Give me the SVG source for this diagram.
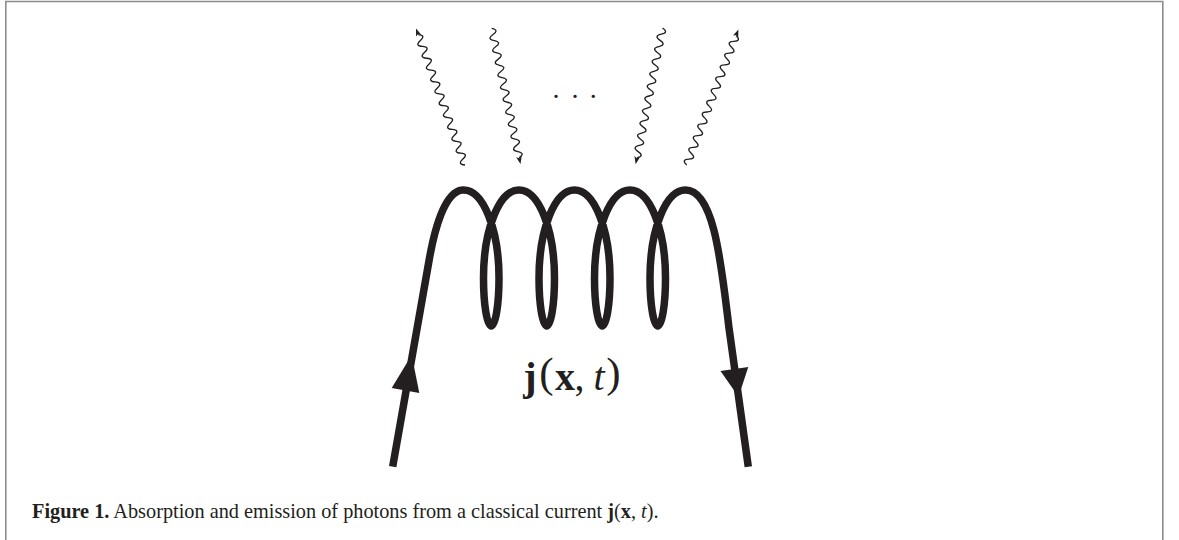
<svg xmlns="http://www.w3.org/2000/svg" xmlns:xlink="http://www.w3.org/1999/xlink" width="1179" height="540" viewBox="0 0 1179 540">
  <style>
    .frame { fill: none; stroke: #8c8c8c; stroke-width: 1.6; }
    .coil { fill: none; stroke: #231f20; stroke-width: 7.5; stroke-linejoin: round; stroke-linecap: butt; }
    .wave { fill: none; stroke: #231f20; stroke-width: 1.3; stroke-linejoin: round; }
    .head { fill: #231f20; stroke: none; }
    .math { font-family: "Liberation Serif", "Times New Roman", serif; fill: #231f20; }
    .cap { font-family: "Liberation Serif", "Times New Roman", serif; font-size: 20.3px; fill: #231f20; }
  </style>
  <defs>
    <g id="w22">
      <path class="wave" d="M0,0 q3.15,-7.4 6.3,0 t6.3,0 t6.3,0 t6.3,0 t6.3,0 t6.3,0 t6.3,0 t6.3,0 t6.3,0 t6.3,0 t6.3,0 t6.3,0 t6.3,0 t6.3,0 t6.3,0 t6.3,0 t6.3,0 t6.3,0 t6.3,0 t6.3,0 t6.3,0 t6.3,0"/>
      <path class="head" d="M145.1,0 L137.4,-2.8 L139.1,0 L137.4,2.8 Z"/>
    </g>
    <g id="w21">
      <path class="wave" d="M0,0 q3.15,-7.4 6.3,0 t6.3,0 t6.3,0 t6.3,0 t6.3,0 t6.3,0 t6.3,0 t6.3,0 t6.3,0 t6.3,0 t6.3,0 t6.3,0 t6.3,0 t6.3,0 t6.3,0 t6.3,0 t6.3,0 t6.3,0 t6.3,0 t6.3,0 t6.3,0"/>
      <path class="head" d="M138.8,0 L131.1,-2.8 L132.8,0 L131.1,2.8 Z"/>
    </g>
  </defs>
  <rect width="1179" height="540" fill="#ffffff"/>
  <path class="frame" d="M5.8,540 V1.5 H1162.8 V540"/>

  <g id="connectors">
    <g id="photon-out-1"><use xlink:href="#w22" transform="translate(465,165) rotate(-109.72)"/></g>
    <g id="photon-in-1"><use xlink:href="#w21" transform="translate(491.7,28.3) rotate(78.02)"/></g>
    <g id="photon-in-2"><use xlink:href="#w21" transform="translate(662.5,28) rotate(101.15)"/></g>
    <g id="photon-out-2"><use xlink:href="#w22" transform="translate(686.7,165) rotate(-69.14)"/></g>
  </g>

  <g id="current">
    <path class="coil" d="M392.7,466.7 L429.5,258 C434,233 444,190 463.5,190
      C483.5,190 499,230 499,278 C499,304 495.5,326 491.25,326 C487,326 483.5,304 483.5,278 C483.5,230 499,190 519,190
      C539,190 554.5,230 554.5,278 C554.5,304 551,326 546.75,326 C542.5,326 539,304 539,278 C539,230 554.5,190 574.5,190
      C594.5,190 610,230 610,278 C610,304 606.5,326 602.25,326 C598,326 594.5,304 594.5,278 C594.5,230 610,190 630,190
      C650,190 665.5,230 665.5,278 C665.5,304 662,326 657.75,326 C653.5,326 650,304 650,278 C650,230 665.5,190 685.5,190
      C714,190 721,262 729,328 L748.3,466.7"/>
    <polygon class="head" points="411.7,355 391.7,388 419.3,393"/>
    <polygon class="head" points="738.5,396.7 720.5,370.9 748.3,367.1"/>
  </g>

  <g id="dots">
    <text class="math" font-size="28" text-anchor="middle"><tspan x="556" y="98">.</tspan><tspan x="575" y="98">.</tspan><tspan x="593.3" y="98">.</tspan></text>
  </g>

  <g id="label">
    <text class="math" text-anchor="middle" font-size="40"><tspan x="530" y="390" font-weight="bold">j</tspan><tspan x="546.3" y="387.3" font-size="43">(</tspan><tspan x="565" y="390" font-weight="bold">x</tspan><tspan x="579.5" y="390">,</tspan><tspan x="599" y="390" font-style="italic">t</tspan><tspan x="613.3" y="387.3" font-size="43">)</tspan></text>
  </g>

  <g id="caption">
    <text class="cap" x="32" y="518.3"><tspan font-weight="bold">Figure 1.</tspan> Absorption and emission of photons from a classical current <tspan font-weight="bold">j</tspan>(<tspan font-weight="bold">x</tspan>, <tspan font-style="italic">t</tspan>).</text>
  </g>
</svg>
